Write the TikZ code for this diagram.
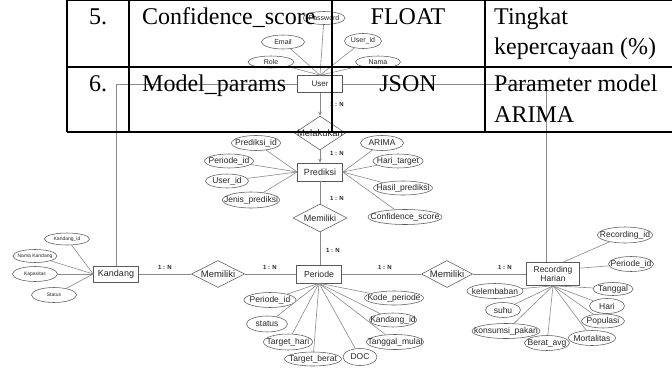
\documentclass[tikz,border=0pt]{standalone}
\usepackage{fontspec}
\setmainfont{Liberation Sans}
\newfontfamily\tabfont{Liberation Serif}
\usetikzlibrary{shapes.geometric,arrows.meta}

\definecolor{edgegray}{HTML}{8A8A8A}
\definecolor{shapegray}{HTML}{5A5A5A}
\definecolor{inkgray}{HTML}{262626}

\tikzset{
  link/.style={draw=edgegray, line width=0.6pt},
  entity/.style={rectangle, draw=shapegray, fill=white, line width=0.6pt, inner sep=0pt,
    font=\fontsize{9}{10}\selectfont, text=inkgray, align=center},
  attrshape/.style={ellipse, draw=shapegray, fill=white, line width=0.55pt, inner sep=0pt},
  attrtext/.style={font=\fontsize{8.5}{9}\selectfont, text=inkgray, inner sep=0pt},
  smalltext/.style={font=\fontsize{7}{8}\selectfont, text=inkgray, inner sep=0pt},
  tinytext/.style={font=\fontsize{5}{6}\selectfont, text=inkgray, inner sep=0pt},
  relshape/.style={diamond, draw=shapegray, fill=white, line width=0.55pt, inner sep=0pt},
  reltext/.style={font=\fontsize{9}{10}\selectfont, text=inkgray, inner sep=0pt},
  card/.style={font=\bfseries\fontsize{6}{6}\selectfont, text=inkgray, inner sep=0pt},
  gridline/.style={draw=black, line width=1.1pt},
  cell/.style={font=\tabfont\fontsize{24}{30}\selectfont, inner sep=0pt, anchor=base west},
  tip/.style={-{Stealth[length=4pt,width=3.5pt]}},
}

% attribute ellipse: [text style]{name}{x}{y}{width}{height}{text}
\newcommand\erattr[7][attrtext]{%
  \node[attrshape, minimum width=#5, minimum height=#6] (#2) at (#3,#4) {};
  \node[#1] (#2-t) at (#2) {#7};}
% relationship diamond: [text style]{name}{x}{y}{width}{height}{text}
\newcommand\errel[7][reltext]{%
  \node[relshape, minimum width=#5, minimum height=#6] (#2) at (#3,#4) {};
  \node[#1] (#2-t) at (#2) {#7};}

\begin{document}
\begin{tikzpicture}[x=1pt, y=-1pt]
\fill[white] (0,0) rectangle (672,369);
\useasboundingbox (0,0) rectangle (672,369);

% ---------- entities ----------
\node[entity, minimum width=45, minimum height=17, font=\fontsize{8}{9}\selectfont] (user) at (320,84) {User};
\node[entity, minimum width=45, minimum height=18] (pred) at (320,172) {Prediksi};
\node[entity, minimum width=45, minimum height=18, font=\fontsize{8.7}{10}\selectfont] (per) at (319,274) {Periode};
\node[entity, minimum width=45, minimum height=16] (kand) at (116,274) {Kandang};
\node[entity, minimum width=53, minimum height=23, font=\fontsize{8.5}{9.5}\selectfont] (rec) at (553,274) {Recording\\Harian};

% ---------- relationships ----------
\errel[reltext, font=\fontsize{9.5}{10}\selectfont]{melak}{320}{133}{51}{34}{Melakukan}
\errel{milpred}{320}{218}{54}{28}{Memiliki}
\errel[reltext, font=\fontsize{9.5}{10}\selectfont]{milkand}{218}{274}{53}{27}{Memiliki}
\errel[reltext, font=\fontsize{9.5}{10}\selectfont]{milrec}{447}{274}{51}{27}{Memiliki}

% ---------- attributes of User ----------
\erattr[smalltext]{upass}{324}{18}{42}{13}{Password}
\erattr[smalltext]{uemail}{283}{42}{43}{14}{Email}
\erattr[smalltext]{uid}{363}{41}{37}{15}{User\_id}
\erattr[smalltext]{urole}{271}{62}{46}{12}{Role}
\erattr[smalltext]{unama}{378}{62}{45}{12}{Nama}

% ---------- attributes of Prediksi ----------
\erattr{pid}{256}{143}{49}{15}{Prediksi\_id}
\erattr{pper}{229}{161}{49}{14}{Periode\_id}
\erattr{puser}{227}{181}{43}{14}{User\_id}
\erattr{pjenis}{251}{200}{57}{16}{Jenis\_prediksi}
\erattr{parima}{382}{143}{43}{15}{ARIMA}
\erattr{phari}{398}{161}{50}{14}{Hari\_target}
\erattr{phasil}{403}{188}{59}{14}{Hasil\_prediksi}
\erattr{pconf}{405}{217}{74}{15}{Confidence\_score}

% ---------- attributes of Periode ----------
\erattr{eid}{270}{300}{52}{15}{Periode\_id}
\erattr{estatus}{267}{324}{41}{16}{status}
\erattr{ehari}{288}{342}{49}{16}{Target\_hari}
\erattr{eberat}{313}{359}{57}{14}{Target\_berat}
\erattr{edoc}{360}{357}{34}{17}{DOC}
\erattr{emulai}{395}{342}{57}{15}{Tanggal\_mulai}
\erattr{ekand}{393}{320}{47}{14}{Kandang\_id}
\erattr{ekode}{394}{298}{59}{14}{Kode\_periode}

% ---------- attributes of Recording Harian ----------
\erattr{rid}{625}{235}{55}{16}{Recording\_id}
\erattr{rper}{631}{264}{45}{15}{Periode\_id}
\erattr{rtgl}{613}{289}{40}{13}{Tanggal}
\erattr{rhari}{607}{306}{35}{15}{Hari}
\erattr{rpop}{603}{321}{43}{14}{Populasi}
\erattr{rmort}{592}{338}{47}{15}{Mortalitas}
\erattr{rberat}{547}{343}{45}{15}{Berat\_avg}
\erattr{rpakan}{506}{331}{68}{15}{konsumsi\_pakan}
\erattr{rsuhu}{503}{310}{35}{15}{suhu}
\erattr{rlemb}{495}{291}{56}{15}{kelembaban}

% ---------- attributes of Kandang ----------
\erattr[tinytext]{kid}{67}{239}{45}{12}{Kandang\_id}
\erattr[tinytext]{knama}{35}{256}{44}{13}{Nama Kandang}
\erattr[tinytext]{kkap}{35}{274}{45}{15}{Kapasitas}
\erattr[tinytext]{kstat}{54}{295}{45}{15}{Status}

% ---------- attribute links ----------
\foreach \a in {upass,uemail,uid,urole,unama} \draw[link] (user.north) -- (\a);
\foreach \a in {pid,pper,puser,pjenis} \draw[link] (pred.west) -- (\a);
\foreach \a in {parima,phari,phasil,pconf} \draw[link] (pred.east) -- (\a);
\foreach \a in {eid,estatus,ehari,eberat,edoc,emulai,ekand,ekode} \draw[link] (per.south) -- (\a);
\foreach \a in {rtgl,rhari,rpop,rmort,rberat,rpakan,rsuhu,rlemb} \draw[link] (rec.south) -- (\a);
\draw[link] ([xshift=10pt]rec.north) -- (rid);
\draw[link] ([yshift=-6pt]rec.north east) -- (rper);
\foreach \a in {kid,knama,kkap,kstat} \draw[link] (kand.west) -- (\a);

% ---------- relationship links ----------
\draw[link, tip] (user.south) -- (melak.north);
\draw[link, tip] (melak.south) -- (pred.north);
\draw[link] (pred.south) -- (milpred.north);
\draw[link] (milpred.south) -- (per.north -| milpred.south);
\draw[link] (kand.east) -- (milkand.west);
\draw[link] (milkand.east) -- (per.west);
\draw[link] (per.east) -- (milrec.west);
\draw[link] (milrec.east) -- (rec.west);
\draw[link] (user.west) -| (kand.north);
\draw[link] (user.east) -| ([xshift=-7pt]rec.north);

% ---------- cardinalities ----------
\node[card] (c1) at (337,104) {1 : N};
\node[card] (c2) at (337,153) {1 : N};
\node[card] (c3) at (337,198) {1 : N};
\node[card] (c4) at (333,250) {1 : N};
\node[card] (c5) at (165,267) {1 : N};
\node[card] (c6) at (270,267) {1 : N};
\node[card] (c7) at (385,267) {1 : N};
\node[card] (c8) at (505,267) {1 : N};

% ---------- table rows ----------
\draw[gridline] (67,0.6) -- (672,0.6);
\draw[gridline] (67,67) -- (672,67);
\draw[gridline] (67,132) -- (672,132);
\foreach \x in {67,129,332,485} \draw[gridline] (\x,0) -- (\x,132);

\node[cell] (n5) at (89,25) {5.};
\node[cell] (f5) at (142,25) {Confidence\_score};
\node[cell, anchor=base] (t5) at (408,25) {FLOAT};
\node[cell] (d5a) at (494,25) {Tingkat};
\node[cell] (d5b) at (494,55) {kepercayaan (\%)};
\node[cell] (n6) at (89,92) {6.};
\node[cell] (f6) at (142,92) {Model\_params};
\node[cell, anchor=base] (t6) at (408,92) {JSON};
\node[cell] (d6a) at (494,92) {Parameter model};
\node[cell] (d6b) at (494,122) {ARIMA};
\end{tikzpicture}
\end{document}
